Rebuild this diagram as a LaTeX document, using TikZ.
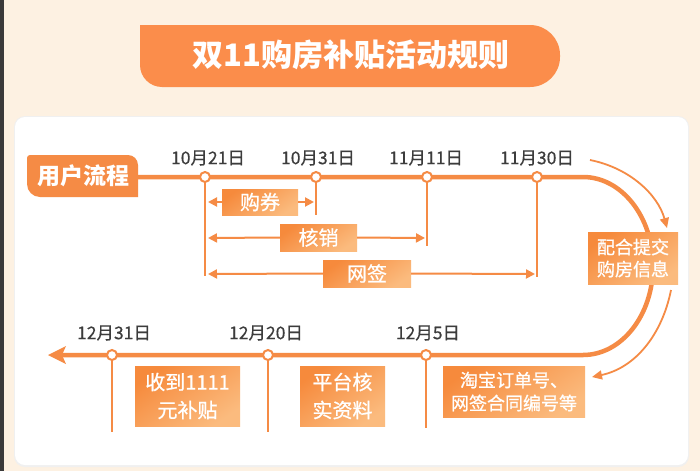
\documentclass[tikz,border=0pt]{standalone}
\usepackage{fontspec}
\setmainfont{Noto Sans CJK SC}
\newfontfamily\medfont{Noto Sans CJK SC}[FakeBold=0.9]
\newfontfamily\datefont{Noto Sans CJK SC}[FakeBold=0.5]
\usetikzlibrary{arrows.meta}
\definecolor{bg}{HTML}{FDF1E2}
\definecolor{org}{HTML}{F58B45}
\definecolor{banner}{HTML}{FB8D4B}
\definecolor{boxtop}{HTML}{F68A3C}
\definecolor{boxbot}{HTML}{FBBB7E}
\definecolor{txt}{HTML}{3C3C3C}
\definecolor{strip}{HTML}{3A3A3A}
\tikzset{
  mainline/.style={draw=org, line width=4.5pt},
  thin/.style={draw=org, line width=2pt},
  rng/.style={draw=org, line width=2pt, -{Triangle[length=9pt,width=9pt]}},
  curv/.style={draw=org, line width=1.8pt, -{Triangle[length=10pt,width=9pt]}},
  dot/.style={circle, draw=org, fill=white, line width=2pt, minimum size=10pt, inner sep=0pt},
  datelab/.style={text=txt, font=\datefont\fontsize{17.5}{20}\selectfont},
  obox/.style={top color=boxtop, bottom color=boxbot, shading angle=35, text=white, inner sep=0pt, align=center},
}
\begin{document}
\begin{tikzpicture}[x=1pt,y=-1pt]
\useasboundingbox (0,0) rectangle (700,471);
\fill[bg] (0,0) rectangle (700,471);
\fill[strip] (0,0) rectangle (4,471);
% card
\fill[black!6, rounded corners=11] (14,116) rectangle (689,467);
\fill[white, rounded corners=10] (15,117) rectangle (688,465);
% title banner
\fill[banner] (140,25) [rounded corners=30] -- (560,25) -- (560,87) [rounded corners=22] -- (140,87) [sharp corners] -- cycle;
\node[text=white, font=\fontsize{31}{34}\selectfont\bfseries] (title) at (351,55) {双11购房补贴活动规则};
% user flow tab
\fill[org] (138,197) [rounded corners=13] -- (27,197) [rounded corners=3] -- (27,155) [rounded corners=10] -- (138,155) [sharp corners] -- cycle;
\node[text=white, font=\fontsize{23}{26}\selectfont\bfseries] (tab) at (83,176) {用户流程};
\coordinate (tabE) at (138,177);
% main line
\coordinate (turnA) at (583,177);
\coordinate (endL) at (60,355);
\draw[mainline] (tabE) -- (turnA) arc[start angle=-90, end angle=90, x radius=70, y radius=89] -- (endL);
\fill[org] (48,355) -- (66,346) -- (62,355) -- (66,364) -- cycle;
% dots
\node[dot] (d1) at (205,177) {};
\node[dot] (d2) at (316,177) {};
\node[dot] (d3) at (427,177) {};
\node[dot] (d4) at (537,177) {};
\node[dot] (e1) at (426,355) {};
\node[dot] (e2) at (268,355) {};
\node[dot] (e3) at (112,355) {};
% vertical lines
\coordinate (d1b) at (205,276);
\coordinate (d2b) at (316,215);
\coordinate (d3b) at (427,246);
\coordinate (d4b) at (537,277);
\coordinate (e1b) at (426,428);
\coordinate (e2b) at (268,432);
\coordinate (e3b) at (112,432);
\foreach \a in {d1,d2,d3,d4,e1,e2,e3} \draw[thin] (\a.south) -- (\a b);
% date labels
\node[datelab] (l1) at (208,158) {10月21日};
\node[datelab] (l2) at (318,158) {10月31日};
\node[datelab] (l3) at (426,158) {11月11日};
\node[datelab] (l4) at (537,158) {11月30日};
\node[datelab] (m1) at (428,333) {12月5日};
\node[datelab] (m2) at (266,333) {12月20日};
\node[datelab] (m3) at (114,333) {12月31日};
% range boxes
\node[obox, minimum width=76pt, minimum height=26pt, font=\medfont\fontsize{20}{22}\selectfont] (b1) at (260,202) {购券};
\node[obox, minimum width=77pt, minimum height=27pt, font=\medfont\fontsize{20}{22}\selectfont] (b2) at (318.5,237.5) {核销};
\node[obox, minimum width=88pt, minimum height=27pt, font=\medfont\fontsize{20}{22}\selectfont] (b3) at (367,273.5) {网签};
\coordinate (r1l) at (208,202);
\coordinate (r1r) at (314,202);
\coordinate (r2l) at (208,238);
\coordinate (r2r) at (425,238);
\coordinate (r3l) at (208,274);
\coordinate (r3r) at (535,274);
\draw[rng] (b1.west) -- (r1l);
\draw[rng] (b1.east) -- (r1r);
\draw[rng] (b2.west) -- (r2l);
\draw[rng] (b2.east) -- (r2r);
\draw[rng] (b3.west) -- (r3l);
\draw[rng] (b3.east) -- (r3r);
% side boxes
\node[obox, minimum width=90pt, minimum height=52pt, font=\medfont\fontsize{18}{22}\selectfont] (b4) at (633,258) {配合提交\\购房信息};
\node[obox, minimum width=142pt, minimum height=51pt, font=\medfont\fontsize{18}{23}\selectfont] (b5) at (514,391.5) {淘宝订单号、\\网签合同编号等};
\node[obox, minimum width=85pt, minimum height=60pt, font=\medfont\fontsize{20}{28}\selectfont] (b6) at (342.5,396) {平台核\\实资料};
\node[obox, minimum width=105pt, minimum height=60pt, font=\medfont\fontsize{20}{28}\selectfont] (b7) at (187.5,396) {收到1111\\元补贴};
% curved arrows
\coordinate (c1s) at (590,160);
\coordinate (c1e) at (667,228);
\coordinate (c2s) at (671,290);
\coordinate (c2e) at (592,377);
\draw[curv] (c1s) .. controls (630,168) and (658,195) .. (c1e);
\draw[curv] (c2s) .. controls (662,335) and (635,368) .. (c2e);
\end{tikzpicture}
\end{document}
